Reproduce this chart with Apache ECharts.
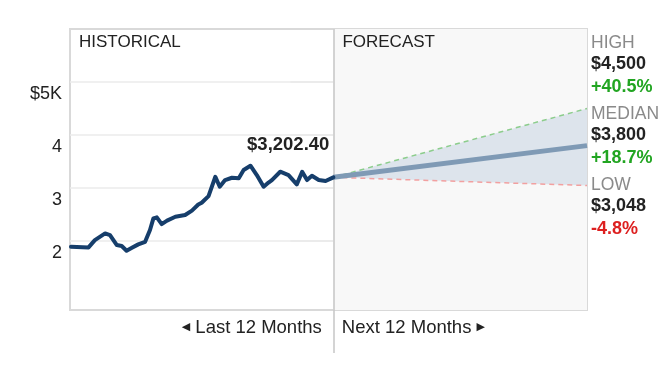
<!DOCTYPE html>
<html><head><meta charset="utf-8">
<script src="https://cdn.jsdelivr.net/npm/echarts@6/dist/echarts.min.js"></script>
<style>html,body{margin:0;padding:0;background:#fff}#c{width:668px;height:385px}</style>
</head><body><div id="c"></div>
<script>
// ---- data ----
const histWeeks = [-53.8,-50.2,-48.9,-46.8,-45.8,-44.4,-43.4,-42.4,-41.3,-40.0,-38.6,-37.6,-36.9,-36.2,-35.2,-34.1,-32.4,-30.4,-29.0,-27.7,-27.0,-25.6,-24.2,-23.3,-22.2,-20.8,-19.4,-18.4,-17.0,-15.7,-14.3,-13.3,-12.6,-10.9,-9.2,-7.5,-6.4,-5.4,-4.4,-3.0,-1.6,0];
const histValues = [1892,1881,2019,2145,2113,1925,1906,1817,1874,1938,1987,2208,2428,2447,2321,2387,2458,2491,2575,2689,2723,2849,3213,3025,3151,3194,3183,3340,3421,3245,3025,3104,3151,3308,3245,3070,3308,3151,3232,3151,3132,3202.4];
const startPrice = 3202.4;
const forecastWeeks = [0, 52];
const highValues = [3202.4, 4500];
const medianValues = [3202.4, 3800];
const lowValues = [3202.4, 3048];
const yTickValues = [2000, 3000, 4000, 5000];
const xRange = [-54, 52];
const yRange = [700, 6000];
const periodLabels = ['HISTORICAL', 'FORECAST'];
const bottomLabels = ['Last 12 Months', 'Next 12 Months'];
const scenarioNames = ['HIGH', 'MEDIAN', 'LOW'];
const scenarioValues = [highValues[1], medianValues[1], lowValues[1]];

// ---- helpers ----
const FONT = "'Liberation Sans', Arial, Helvetica, sans-serif";
const zip = (xs, ys) => xs.map((x, i) => [x, ys[i]]);
const money = v => '$' + v.toLocaleString('en-US');
const pct = v => { const p = (v / startPrice - 1) * 100; return (p >= 0 ? '+' : '') + p.toFixed(1) + '%'; };

const G = { left: 70, right: 81, top: 29, bottom: 75 };

const chart = echarts.init(document.getElementById('c'), null, { renderer: 'canvas' });

const option = {
  animation: false,
  backgroundColor: '#fff',
  textStyle: { fontFamily: FONT },
  grid: { left: G.left, right: G.right, top: G.top, bottom: G.bottom, show: true, borderColor: '#d9d9d9', borderWidth: 2, backgroundColor: 'transparent' },
  xAxis: {
    type: 'value', min: xRange[0], max: xRange[1],
    axisLine: { show: false },
    splitLine: { show: false },
    axisTick: { show: true, customValues: [0], length: 43, lineStyle: { color: '#c6c6c6', width: 1.5 } },
    axisLabel: {
      customValues: [0], margin: 8,
      formatter: () => '{t|◀}{l| ' + bottomLabels[0] + '}{g|}{r|' + bottomLabels[1] + ' }{t|▶}',
      rich: {
        t: { fontSize: 11, color: '#222', fontFamily: 'DejaVu Sans' },
        l: { fontSize: 18.5, color: '#222', fontFamily: FONT },
        r: { fontSize: 18.5, color: '#222', fontFamily: FONT },
        g: { width: 20 }
      }
    }
  },
  yAxis: {
    type: 'value', min: yRange[0], max: yRange[1],
    axisLine: { show: false },
    axisTick: { show: true, customValues: yTickValues, length: 43, lineStyle: { color: '#e9e9e9', width: 1.5 } },
    splitLine: { show: true, lineStyle: { color: '#ebebeb', width: 1.5 } },
    axisLabel: {
      customValues: yTickValues, margin: 8, verticalAlign: 'top', padding: [3, 0, 0, 0],
      fontSize: 18, color: '#222', fontFamily: FONT,
      formatter: v => v === 5000 ? '$5K' : String(v / 1000)
    }
  },
  series: [
    {
      type: 'line', data: [[0, startPrice]], symbol: 'none', lineStyle: { width: 0 }, silent: true, z: 1,
      markArea: {
        silent: true, z: 1,
        label: { position: 'insideTopLeft', fontSize: 17, color: '#222', fontFamily: FONT, offset: [4, 0] },
        data: [
          [{ xAxis: xRange[0], name: periodLabels[0], itemStyle: { color: 'rgba(0,0,0,0)' } }, { xAxis: 0 }],
          [{ xAxis: 0, name: periodLabels[1], itemStyle: { color: '#f8f8f8' } }, { xAxis: xRange[1] }]
        ]
      },
      markLine: {
        silent: true, symbol: ['none', 'none'], label: { show: false },
        lineStyle: { color: '#c6c6c6', type: 'solid', width: 1.5 },
        data: [{ xAxis: 0 }]
      }
    },
    {
      type: 'custom', z: 3, silent: true,
      data: [0],
      renderItem: (params, api) => {
        const pts = forecastWeeks.map((w, k) => api.coord([w, highValues[k]]))
          .concat(forecastWeeks.map((w, k) => api.coord([w, lowValues[k]])).reverse());
        return { type: 'polygon', shape: { points: pts }, style: { fill: '#dde4ec' } };
      }
    },
    {
      type: 'line', data: zip(forecastWeeks, highValues), symbol: 'none', z: 4,
      lineStyle: { color: '#8ccd8c', width: 1.5, type: [5, 4] }
    },
    {
      type: 'line', data: zip(forecastWeeks, lowValues), symbol: 'none', z: 4,
      lineStyle: { color: '#f2a0a0', width: 1.5, type: [5, 4] }
    },
    {
      type: 'line', data: zip(forecastWeeks, medianValues), symbol: 'none', z: 5,
      lineStyle: { color: '#7f9ab5', width: 5 }
    },
    {
      type: 'line', data: zip(histWeeks, histValues), symbol: 'none', z: 6,
      lineStyle: { color: '#163e6b', width: 4, join: 'round', cap: 'round' },
      markPoint: {
        silent: true, symbol: 'circle', symbolSize: 0,
        data: [{ coord: [0, startPrice] }],
        label: {
          show: true, position: 'inside', align: 'right', offset: [-4, -32],
          fontSize: 18.5, fontWeight: 'bold', color: '#222', fontFamily: FONT,
          formatter: () => '$' + startPrice.toLocaleString('en-US', { minimumFractionDigits: 2 })
        }
      }
    }
  ],
  graphic: scenarioNames.map((name, i) => {
    const v = scenarioValues[i];
    const up = v >= startPrice;
    return {
      type: 'text', left: 591, top: 34 + i * 71, silent: true,
      style: {
        text: '{n|' + name + '}\n{v|' + money(v) + '}\n{p|' + pct(v) + '}',
        fill: '#222',
        rich: {
          n: { fontSize: 17.5, fill: '#8a8a8a', fontFamily: FONT, lineHeight: 21 },
          v: { fontSize: 18, fontWeight: 'bold', fill: '#222', fontFamily: FONT, lineHeight: 22 },
          p: { fontSize: 18, fontWeight: 'bold', fill: up ? '#22a522' : '#dd2020', fontFamily: FONT, lineHeight: 23 }
        }
      }
    };
  })
};
chart.setOption(option);
</script>
</body></html>
